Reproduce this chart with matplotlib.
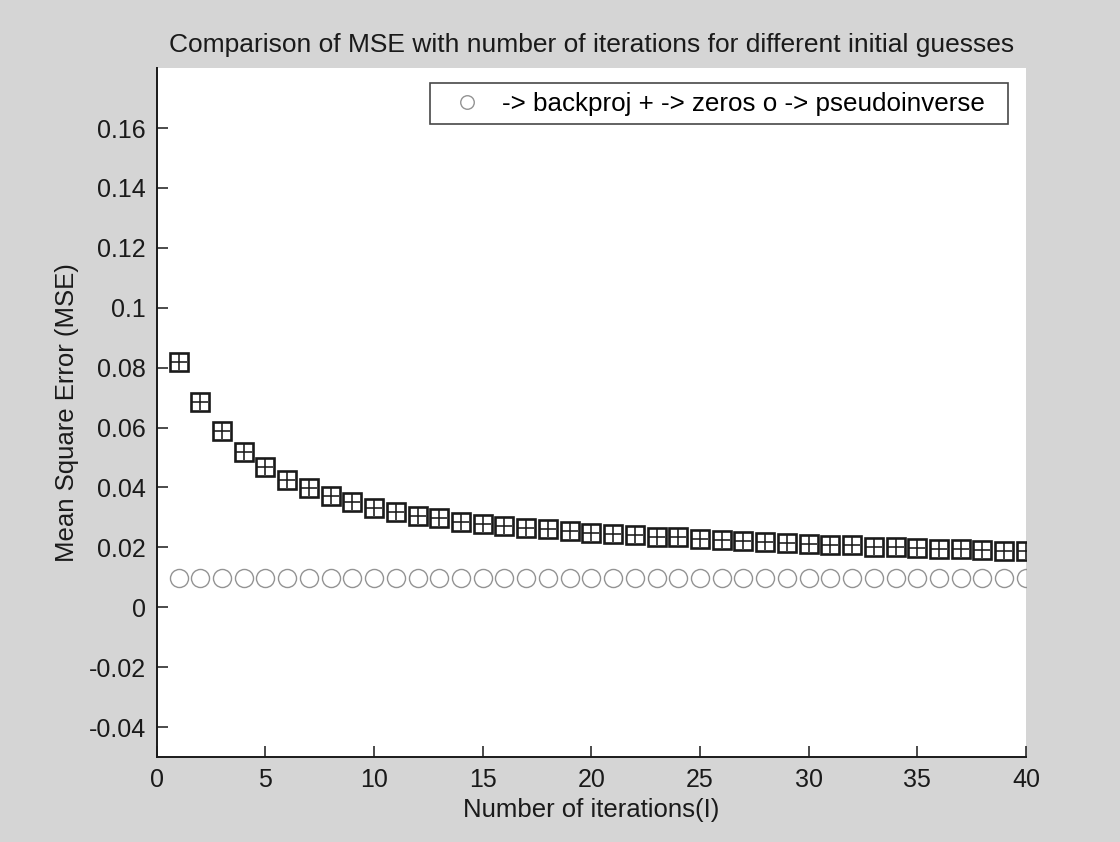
import matplotlib
matplotlib.use('Agg')

import matplotlib.pyplot as plt
from matplotlib.ticker import FormatStrFormatter

iterations = list(range(1, 41))

mse_backproj = [0.0098, 0.0098, 0.0098, 0.0098, 0.0098, 0.0098, 0.0098, 0.0098, 0.0098, 0.0098,
                0.0098, 0.0098, 0.0098, 0.0098, 0.0098, 0.0098, 0.0098, 0.0098, 0.0098, 0.0098,
                0.0098, 0.0098, 0.0098, 0.0098, 0.0098, 0.0098, 0.0098, 0.0098, 0.0098, 0.0098,
                0.0098, 0.0098, 0.0098, 0.0098, 0.0098, 0.0098, 0.0098, 0.0098, 0.0098, 0.0098]

mse_zeros = [0.0820, 0.0687, 0.0590, 0.0518, 0.0467, 0.0426, 0.0398, 0.0372, 0.0352, 0.0333,
             0.0318, 0.0306, 0.0298, 0.0285, 0.0278, 0.0272, 0.0266, 0.0261, 0.0255, 0.0249,
             0.0245, 0.0240, 0.0235, 0.0233, 0.0228, 0.0223, 0.0222, 0.0217, 0.0216, 0.0210,
             0.0209, 0.0208, 0.0202, 0.0201, 0.0197, 0.0196, 0.0195, 0.0190, 0.0189, 0.0189]

mse_pinv = [0.0820, 0.0687, 0.0590, 0.0518, 0.0467, 0.0426, 0.0398, 0.0372, 0.0352, 0.0333,
            0.0318, 0.0306, 0.0298, 0.0285, 0.0278, 0.0272, 0.0266, 0.0261, 0.0255, 0.0249,
            0.0245, 0.0240, 0.0235, 0.0233, 0.0228, 0.0223, 0.0222, 0.0217, 0.0216, 0.0210,
            0.0209, 0.0208, 0.0202, 0.0201, 0.0197, 0.0196, 0.0195, 0.0190, 0.0189, 0.0189]

x_ticks = [0, 5, 10, 15, 20, 25, 30, 35, 40]
y_ticks = [-0.04, -0.02, 0, 0.02, 0.04, 0.06, 0.08, 0.1, 0.12, 0.14, 0.16]

plt.rcParams['font.family'] = ['Liberation Sans', 'DejaVu Sans']
plt.rcParams['axes.unicode_minus'] = False
ink = '#1a1a1a'

fig = plt.figure(figsize=(11.2, 8.42), dpi=100, facecolor='#d5d5d5')
ax = fig.add_axes([0.140, 0.101, 0.776, 0.818])
ax.set_facecolor('white')

ax.plot(iterations, mse_backproj, linestyle='none', marker='o', markersize=13,
        markerfacecolor='none', markeredgecolor='#939393', markeredgewidth=1.0,
        label='-> backproj + -> zeros o -> pseudoinverse  ')
ax.plot(iterations, mse_zeros, linestyle='none', marker='+', markersize=11.5,
        markeredgecolor='#222222', markeredgewidth=1.2)
ax.plot(iterations, mse_pinv, linestyle='none', marker='s', markersize=12.5,
        markerfacecolor='none', markeredgecolor=ink, markeredgewidth=1.9)

ax.set_xlim(0, 40)
ax.set_ylim(-0.05, 0.18)
ax.set_xticks(x_ticks)
ax.set_yticks(y_ticks)
ax.yaxis.set_major_formatter(FormatStrFormatter('%g'))

for side in ['top', 'right']:
    ax.spines[side].set_visible(False)
for side in ['left', 'bottom']:
    ax.spines[side].set_linewidth(1.4)
    ax.spines[side].set_color(ink)

ax.tick_params(direction='in', length=8, width=1.1, labelsize=18, colors=ink, pad=8)

ax.set_title('Comparison of MSE with number of iterations for different initial guesses',
             fontsize=19, color=ink, pad=12)
ax.set_xlabel('Number of iterations(I)', fontsize=18.5, color=ink, labelpad=4)
ax.set_ylabel('Mean Square Error (MSE)', fontsize=18.5, color=ink, labelpad=7)

leg = ax.legend(loc='upper right', bbox_to_anchor=(0.979, 0.978), borderaxespad=0,
                fontsize=18.7, frameon=True, fancybox=False, markerscale=0.75,
                handlelength=2.2, handletextpad=0.25, borderpad=0.33)
leg.get_frame().set_edgecolor(ink)
leg.get_frame().set_linewidth(1.2)

fig.savefig('out.png', dpi=100, facecolor=fig.get_facecolor())
